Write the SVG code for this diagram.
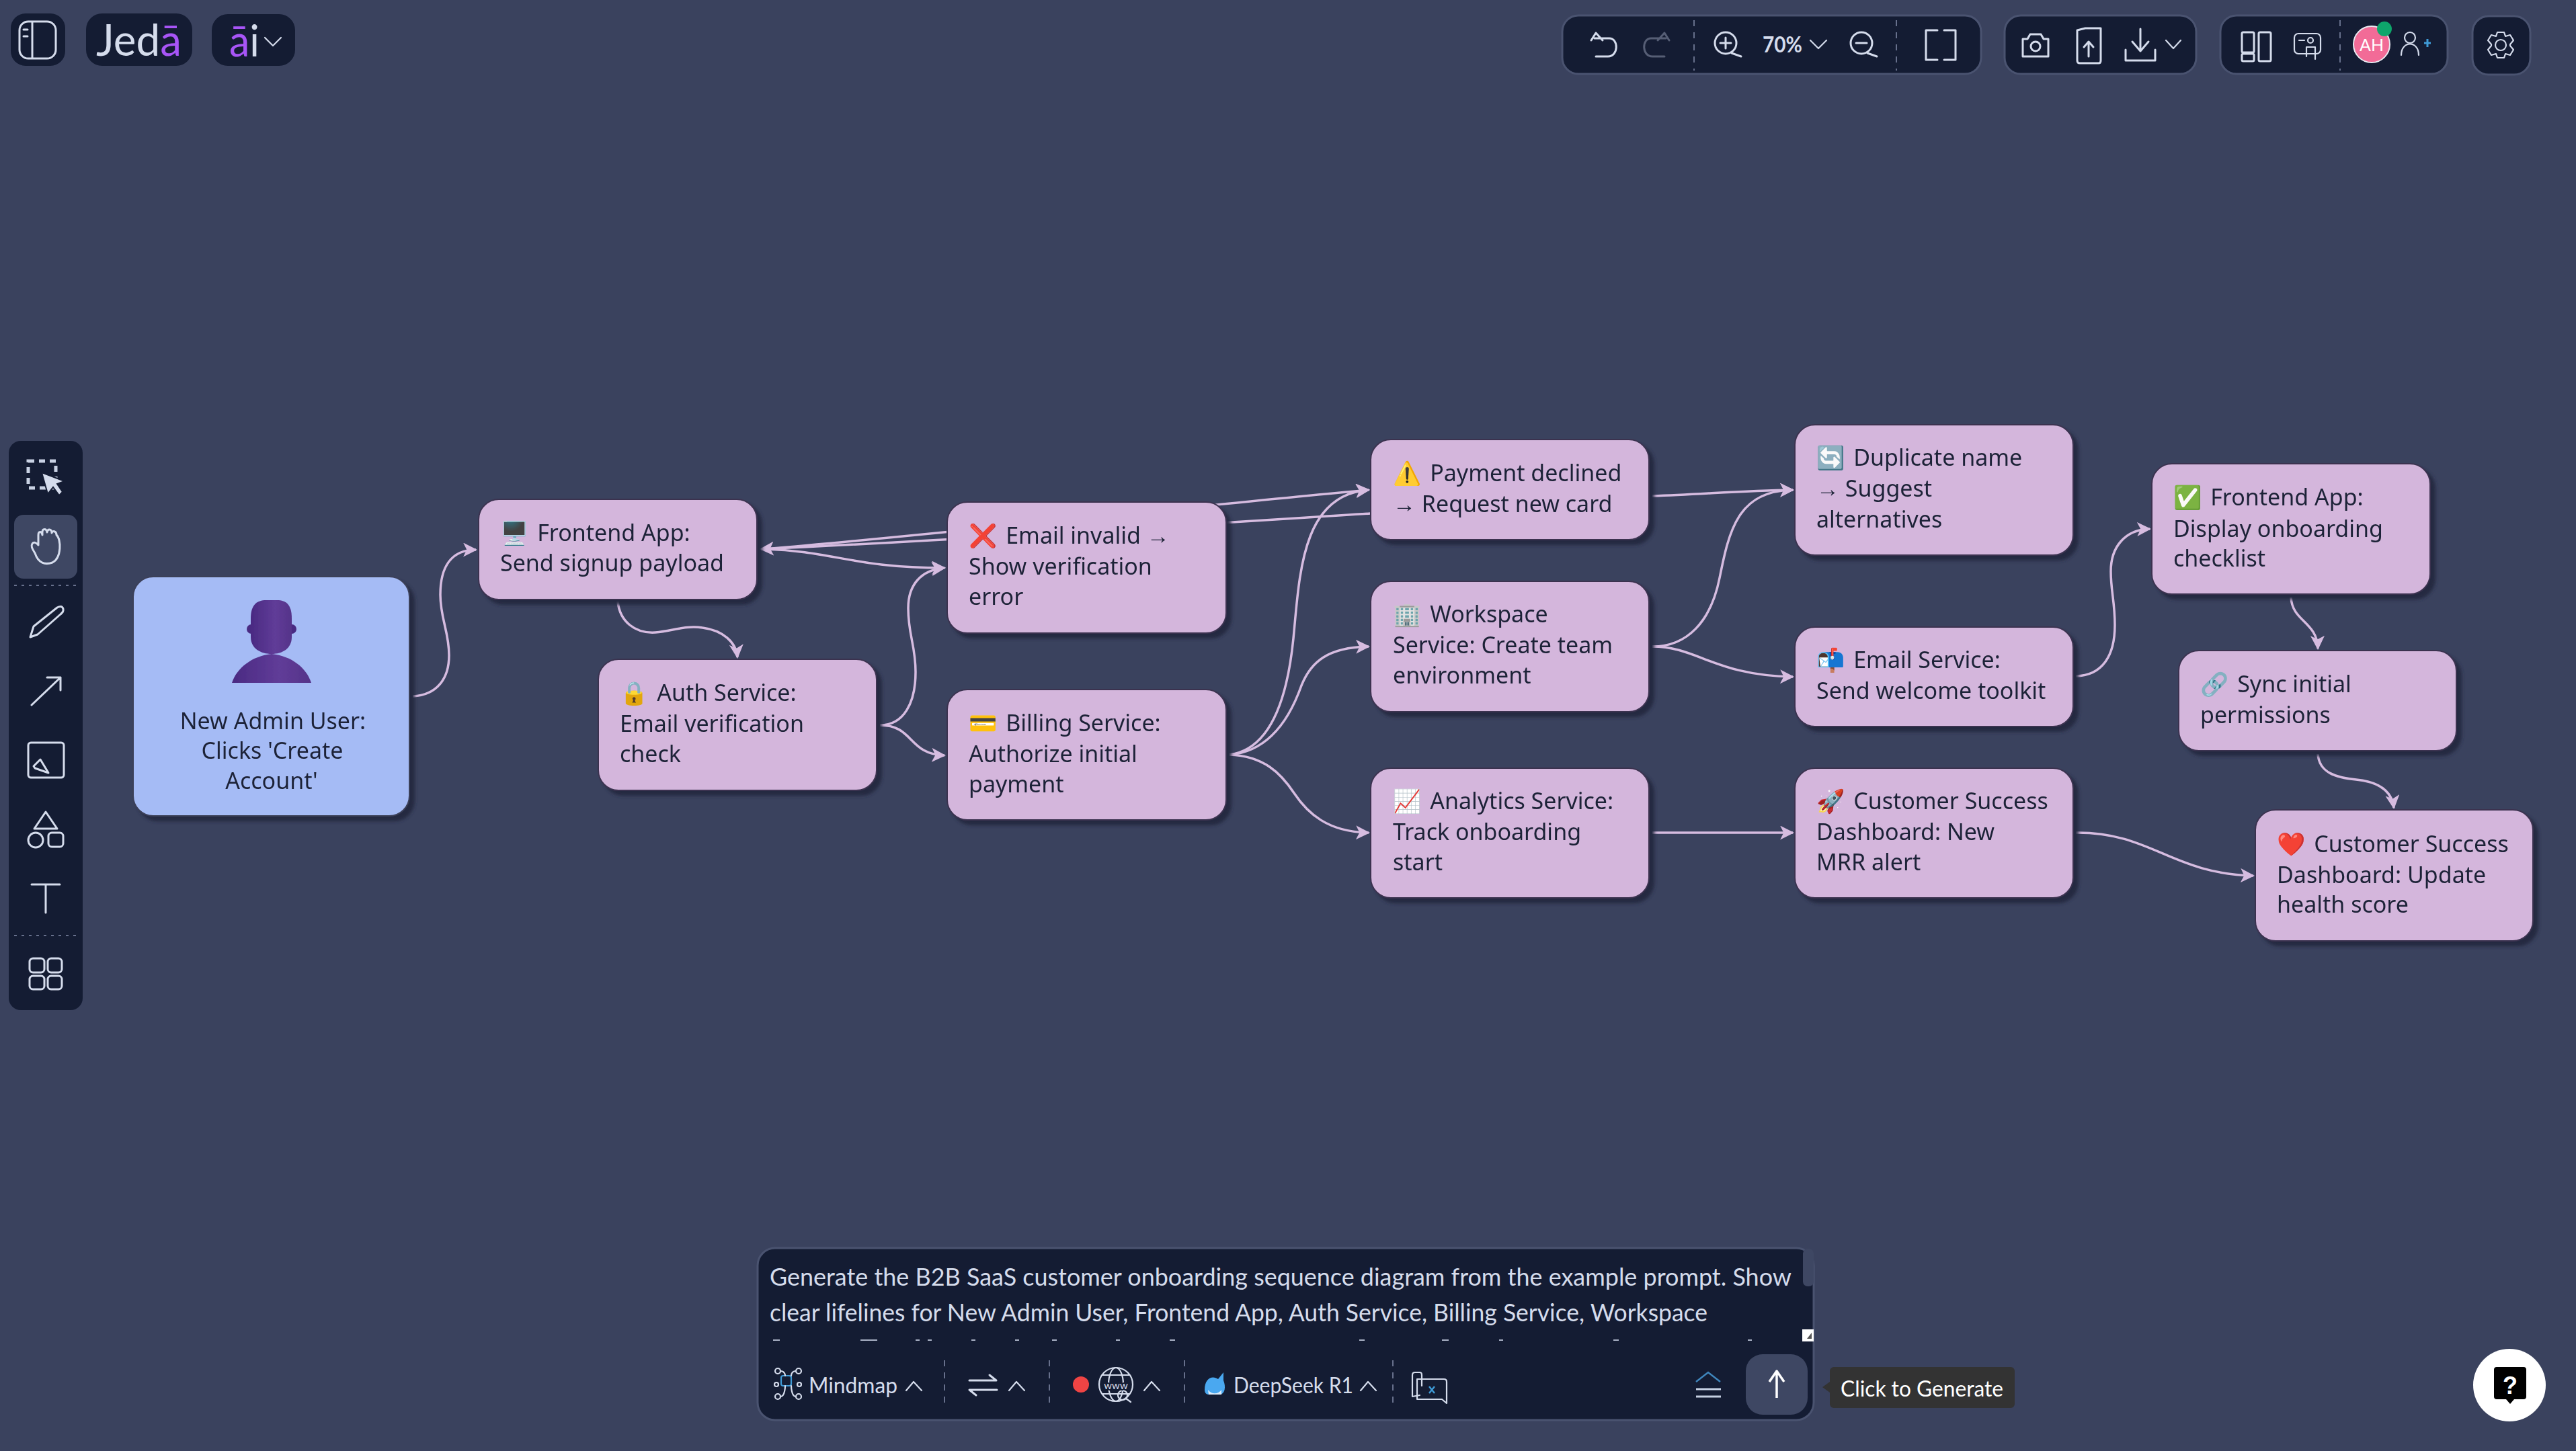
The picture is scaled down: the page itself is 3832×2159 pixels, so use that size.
<svg xmlns="http://www.w3.org/2000/svg" width="3832" height="2159" viewBox="0 0 3832 2159">
<style>
.n{fill:#d4b6dc;stroke:#3b3350;stroke-width:2}
.nt{font-family:"Noto Sans","Open Sans","Noto Color Emoji",sans-serif;font-size:34px;fill:#1f2437}
.c{fill:none;stroke:#d6bce0;stroke-width:3.5}
.ui{fill:#141c33}
.pb{stroke:#4a5370;stroke-width:3}
.i{fill:none;stroke:#d5dcec;stroke-width:3;stroke-linecap:round;stroke-linejoin:round}
.t{stroke-width:2.2}
.d{stroke:#67708c;stroke-width:2;stroke-dasharray:9 9}
.u{font-family:Lato,"Noto Sans",sans-serif;fill:#d5dcec}
</style>
<defs>
<marker id="ah" viewBox="0 0 10 10" refX="9" refY="5" markerWidth="6" markerHeight="6" orient="auto-start-reverse" markerUnits="strokeWidth"><path d="M0 0L10 5L0 10L2.5 5Z" fill="#d6bce0"/></marker>
<filter id="sh" x="-10%" y="-10%" width="125%" height="125%"><feDropShadow dx="7" dy="7" stdDeviation="2.5" flood-color="#232840" flood-opacity=".95"/></filter>
<linearGradient id="pg" x1="0" y1="0" x2="1" y2="0"><stop offset="0" stop-color="#4a2a82"/><stop offset=".6" stop-color="#603c98"/><stop offset="1" stop-color="#553389"/></linearGradient>
</defs>
<rect id="background" width="3832" height="2159" fill="#3a425e"/>

<g id="connectors">
<path class="c" marker-end="url(#ah)" d="M614,1036C650,1034 668,1010 668,975C668,940 655,920 655,885C655,845 670,818 708,818"/>
<path class="c" marker-end="url(#ah)" d="M919,895C922,925 945,943 975,941C1000,939 1020,930 1045,934C1075,938 1095,955 1097,978"/>
<path class="c" marker-end="url(#ah)" d="M1138,817C1240,820 1270,845 1405,845"/>
<path class="c" marker-end="url(#ah)" d="M1138,817C1400,795 1800,750 2036,729"/>
<path class="c" marker-end="url(#ah)" d="M2039,764C1800,779 1400,805 1132,817"/>
<path class="c" marker-end="url(#ah)" d="M1309,1079C1345,1079 1362,1045 1362,1000C1362,960 1351,945 1351,905C1351,870 1370,848 1405,845"/>
<path class="c" marker-end="url(#ah)" d="M1309,1079C1360,1079 1350,1122 1405,1124"/>
<path class="c" marker-end="url(#ah)" d="M1829,1123C1890,1115 1915,1040 1924,950C1933,860 1935,735 2036,729"/>
<path class="c" marker-end="url(#ah)" d="M1829,1123C1890,1118 1920,1065 1936,1020C1950,985 1975,963 2036,962"/>
<path class="c" marker-end="url(#ah)" d="M1829,1123C1880,1125 1905,1150 1925,1180C1945,1210 1975,1238 2036,1239"/>
<path class="c" marker-end="url(#ah)" d="M2458,738C2540,735 2590,730 2667,729"/>
<path class="c" marker-end="url(#ah)" d="M2458,962C2510,962 2545,925 2558,860C2572,790 2585,730 2667,729"/>
<path class="c" marker-end="url(#ah)" d="M2458,962C2525,962 2550,1005 2667,1007"/>
<path class="c" marker-end="url(#ah)" d="M2458,1239L2667,1239"/>
<path class="c" marker-end="url(#ah)" d="M3088,1006C3128,1005 3146,975 3146,930C3146,895 3140,880 3140,850C3140,815 3160,788 3198,787"/>
<path class="c" marker-end="url(#ah)" d="M3408,889C3410,925 3447,925 3448,965"/>
<path class="c" marker-end="url(#ah)" d="M3448,1122C3450,1150 3475,1157 3505,1160C3535,1163 3558,1175 3561,1202"/>
<path class="c" marker-end="url(#ah)" d="M3088,1239C3200,1238 3230,1300 3352,1303"/>
</g>

<g id="node-user" filter="url(#sh)"><rect x="198" y="858" width="411" height="356" rx="30" fill="#a5bbf5" stroke="#3b3f58" stroke-width="2"/>
<path d="M345,1016C352,994 375,976 404,973C434,976 456,994 463,1016Z" fill="url(#pg)"/>
<circle cx="374" cy="936" r="7" fill="#4a2a82"/><circle cx="434" cy="936" r="7" fill="#4a2a82"/>
<path d="M373,920C373,900 382,893 396,893H412C426,893 434,900 434,920V948C434,965 420,973 404,973C388,973 373,965 373,948Z" fill="url(#pg)"/>
<text class="nt" text-anchor="middle" x="406" y="1085">New Admin User:</text><text class="nt" text-anchor="middle" x="405" y="1129">Clicks 'Create</text><text class="nt" text-anchor="middle" x="404" y="1174">Account'</text></g>
<g id="node-frontend" filter="url(#sh)"><rect class="n" x="712" y="743" width="414" height="149" rx="30"/><text class="nt" x="744" y="805">🖥️ <tspan dx="4">Frontend App:</tspan></text><text class="nt" x="744" y="850">Send signup payload</text></g>
<g id="node-auth" filter="url(#sh)"><rect class="n" x="890" y="981" width="414" height="195" rx="30"/><text class="nt" x="922" y="1043">🔒 <tspan dx="4">Auth Service:</tspan></text><text class="nt" x="922" y="1089">Email verification</text><text class="nt" x="922" y="1134">check</text></g>
<g id="node-email-invalid" filter="url(#sh)"><rect class="n" x="1409" y="747" width="415" height="195" rx="30"/><text class="nt" x="1441" y="809">❌ <tspan dx="4">Email invalid →</tspan></text><text class="nt" x="1441" y="855">Show verification</text><text class="nt" x="1441" y="900">error</text></g>
<g id="node-billing" filter="url(#sh)"><rect class="n" x="1409" y="1026" width="415" height="194" rx="30"/><text class="nt" x="1441" y="1088">💳 <tspan dx="4">Billing Service:</tspan></text><text class="nt" x="1441" y="1134">Authorize initial</text><text class="nt" x="1441" y="1179">payment</text></g>
<g id="node-payment" filter="url(#sh)"><rect class="n" x="2039" y="654" width="414" height="149" rx="30"/><text class="nt" x="2072" y="716">⚠️ <tspan dx="4">Payment declined</tspan></text><text class="nt" x="2072" y="762">→ Request new card</text></g>
<g id="node-workspace" filter="url(#sh)"><rect class="n" x="2039" y="865" width="414" height="194" rx="30"/><text class="nt" x="2072" y="926">🏢 <tspan dx="4">Workspace</tspan></text><text class="nt" x="2072" y="972">Service: Create team</text><text class="nt" x="2072" y="1017">environment</text></g>
<g id="node-analytics" filter="url(#sh)"><rect class="n" x="2039" y="1143" width="414" height="193" rx="30"/><text class="nt" x="2072" y="1204">📈 <tspan dx="4">Analytics Service:</tspan></text><text class="nt" x="2072" y="1250">Track onboarding</text><text class="nt" x="2072" y="1295">start</text></g>
<g id="node-duplicate" filter="url(#sh)"><rect class="n" x="2670" y="632" width="414" height="194" rx="30"/><text class="nt" x="2702" y="693">🔄 <tspan dx="4">Duplicate name</tspan></text><text class="nt" x="2702" y="739">→ Suggest</text><text class="nt" x="2702" y="785">alternatives</text></g>
<g id="node-email-service" filter="url(#sh)"><rect class="n" x="2670" y="933" width="414" height="148" rx="30"/><text class="nt" x="2702" y="994">📬 <tspan dx="4">Email Service:</tspan></text><text class="nt" x="2702" y="1040">Send welcome toolkit</text></g>
<g id="node-cs-new" filter="url(#sh)"><rect class="n" x="2670" y="1143" width="414" height="193" rx="30"/><text class="nt" x="2702" y="1204">🚀 <tspan dx="4">Customer Success</tspan></text><text class="nt" x="2702" y="1250">Dashboard: New</text><text class="nt" x="2702" y="1295">MRR alert</text></g>
<g id="node-frontend-checklist" filter="url(#sh)"><rect class="n" x="3201" y="690" width="414" height="194" rx="30"/><text class="nt" x="3233" y="752">✅ <tspan dx="4">Frontend App:</tspan></text><text class="nt" x="3233" y="799">Display onboarding</text><text class="nt" x="3233" y="843">checklist</text></g>
<g id="node-sync" filter="url(#sh)"><rect class="n" x="3241" y="968" width="413" height="149" rx="30"/><text class="nt" x="3273" y="1030">🔗 <tspan dx="4">Sync initial</tspan></text><text class="nt" x="3273" y="1076">permissions</text></g>
<g id="node-cs-health" filter="url(#sh)"><rect class="n" x="3355" y="1205" width="413" height="195" rx="30"/><text class="nt" x="3387" y="1268">❤️ <tspan dx="4">Customer Success</tspan></text><text class="nt" x="3387" y="1314">Dashboard: Update</text><text class="nt" x="3387" y="1358">health score</text></g>

<g id="brand-bar">
<rect class="ui" x="16" y="20" width="81" height="78" rx="22"/>
<rect class="i" x="29" y="32" width="54" height="55" rx="13"/><path class="i" d="M48 33V86M35 44H41M35 54H41"/>
<rect class="ui" x="128" y="20" width="158" height="78" rx="24"/>
<text x="143" y="83" font-family="Lato,sans-serif" font-weight="400" font-size="66" textLength="127" lengthAdjust="spacingAndGlyphs" fill="#d5dcec">Jed<tspan fill="#a855f7">ā</tspan></text>
<rect class="ui" x="315" y="21" width="124" height="77" rx="24"/>
<text x="341" y="84" font-family="Lato,sans-serif" font-weight="400" font-size="66" textLength="45" lengthAdjust="spacingAndGlyphs" fill="#d5dcec"><tspan fill="#a855f7">ā</tspan>i</text>
<path class="i t" d="M394 56L406 68L418 56"/>
</g>

<g id="top-toolbar">
<rect class="ui pb" x="2324" y="23" width="623" height="87" rx="24"/>
<rect class="ui pb" x="2982" y="23" width="285" height="87" rx="24"/>
<rect class="ui pb" x="3303" y="23" width="338" height="87" rx="24"/>
<rect class="ui pb" x="3678" y="24" width="86" height="87" rx="24"/>
<path class="d" d="M2520 30V105M2821 30V105M3481 30V105"/>
<path class="i" d="M2374 49L2367 60M2374 49L2384 60M2372 57H2394C2408 57 2408 84 2392 84H2374"/>
<path class="i" style="stroke:#565e75" d="M2476 49L2483 60M2476 49L2466 60M2478 57H2456C2442 57 2442 84 2458 84H2476"/>
<circle class="i" cx="2567" cy="64" r="16"/><path class="i" d="M2567 56V72M2559 64H2575M2576 79L2590 84"/>
<text class="u" x="2622" y="78" font-size="32" font-weight="700" textLength="59" lengthAdjust="spacingAndGlyphs">70%</text>
<path class="i t" d="M2693 60L2705 72L2717 60"/>
<circle class="i" cx="2769" cy="64" r="16"/><path class="i" d="M2761 64H2777M2778 79L2792 84"/>
<path class="i" d="M2882 45H2865V89H2882M2892 45H2909V89H2892"/>
<path class="i" d="M3009 58H3016L3020 51H3036L3040 58H3047V84H3009Z"/><circle class="i" cx="3028" cy="69" r="7"/>
<path class="i" d="M3090 45V90Q3090 94 3094 94H3122Q3125 94 3125 90V42H3102ZM3107 84V64M3100 70L3107 62L3114 70"/>
<path class="i" d="M3184 43V76M3172 62L3184 76L3196 62M3162 74V90H3206V74"/>
<path class="i t" d="M3222 60L3233 72L3244 60"/>
<rect class="i" x="3335" y="48" width="18" height="30" rx="2"/><rect class="i" x="3335" y="80" width="18" height="11" rx="2"/><rect class="i" x="3360" y="48" width="18" height="43" rx="2"/>
<rect class="i t" x="3413" y="50" width="39" height="30" rx="6"/><circle class="i t" cx="3437" cy="60" r="4"/><path class="i t" d="M3431 84V70H3444V88M3420 60H3428"/>
<circle cx="3528" cy="66" r="27" fill="#f26b97" stroke="#e8e8f0" stroke-width="2"/>
<text x="3528" y="76" text-anchor="middle" font-family="Lato,sans-serif" font-size="25" fill="#fff">AH</text>
<circle cx="3547" cy="43" r="11" fill="#0ea66b"/>
<circle class="i t" cx="3585" cy="56" r="8"/><path class="i t" d="M3572 82C3572 60 3598 60 3598 82"/>
<path d="M3606 64H3616M3611 58V70" stroke="#3f9ad6" stroke-width="3" fill="none"/>
<circle class="i t" cx="3720" cy="67" r="8"/><path class="i t" d="M3715 48H3725L3727 54L3734 52L3739 60L3734 66V68L3739 74L3734 82L3727 80L3725 86H3715L3713 80L3706 82L3701 74L3706 68V66L3701 60L3706 52L3713 54Z"/>
</g>

<g id="left-toolbar">
<rect class="ui" x="13" y="656" width="110" height="847" rx="18"/>
<rect x="21" y="766" width="94" height="95" rx="14" fill="#3e4763"/>
<path d="M21 871H115M21 1392H115" stroke="#67708c" stroke-width="2" stroke-dasharray="4 7"/>
<rect x="42" y="686" width="41" height="40" fill="none" stroke="#c9d2e4" stroke-width="5" stroke-dasharray="9 7"/>
<path d="M62 703L96 716L85 720L93 732L88 737L79 725L71 735Z" fill="#d5dcec" stroke="#141c33" stroke-width="2"/>
<path class="i" d="M52 823C47 815 46 812 48 809C50 806 54 807 57 811V796C57 790 62 790 63 796V792C63 786 69 786 70 792C71 786 77 787 77 793C78 789 84 790 84 796C91 802 92 830 78 837C67 841 57 838 52 823Z"/>
<path class="i" d="M45 948L50 932L85 904Q92 900 94 906Q95 910 90 914L56 944Z"/>
<path class="i" d="M47 1049L90 1008M70 1008H90V1027"/>
<rect class="i" x="42" y="1105" width="53" height="52" rx="4"/><path class="i" d="M50 1140L60 1130L72 1150L52 1143Z"/>
<path class="i" d="M68 1208L85 1233H51Z"/><circle class="i" cx="53" cy="1250" r="11"/><rect class="i" x="72" y="1239" width="22" height="21" rx="5"/>
<path class="i" d="M47 1316H89M68 1316V1358"/>
<rect class="i" x="44" y="1426" width="22" height="21" rx="5"/><rect class="i" x="71" y="1426" width="21" height="21" rx="5"/><rect class="i" x="44" y="1452" width="22" height="20" rx="5"/><rect class="i" x="71" y="1452" width="21" height="20" rx="5"/>
</g>

<g id="prompt-panel">
<rect class="ui" x="1127" y="1857" width="1571" height="256" rx="26" stroke="#4a5370" stroke-width="3"/>
<rect x="2682" y="1858" width="16" height="56" rx="7" fill="#3e4763"/>
<rect x="2681" y="1978" width="17" height="18" fill="#fff"/><path d="M2688 1992L2695 1983V1992Z" fill="#555"/>
<text class="u" x="1145" y="1913" font-size="36" textLength="1520" lengthAdjust="spacingAndGlyphs">Generate the B2B SaaS customer onboarding sequence diagram from the example prompt. Show</text>
<text class="u" x="1145" y="1966" font-size="36" textLength="1395" lengthAdjust="spacingAndGlyphs">clear lifelines for New Admin User, Frontend App, Auth Service, Billing Service, Workspace</text>
<path d="M1150 1994H1160M1280 1994H1305M1362 1994H1368M1380 1994H1386M1445 1994H1451M1510 1994H1516M1565 1994H1572M1660 1994H1666M1740 1994H1748M2022 1994H2030M2145 1994H2155M2230 1994H2236M2400 1994H2408M2600 1994H2606" stroke="#aab2c6" stroke-width="2"/>
<path class="d" d="M1405 2024V2096M1561 2024V2096M1762 2024V2096M2072 2024V2096"/>
<g class="i t"><rect x="1162" y="2047" width="15" height="15" rx="3" style="stroke:#3f9ad6"/><circle cx="1157" cy="2040" r="4"/><circle cx="1188" cy="2040" r="4"/><circle cx="1155" cy="2060" r="3"/><circle cx="1189" cy="2060" r="3"/><circle cx="1157" cy="2078" r="4"/><circle cx="1188" cy="2078" r="4"/><path d="M1161 2040C1168 2040 1168 2047 1168 2047M1184 2040C1177 2040 1177 2047 1177 2047M1161 2078C1168 2078 1168 2062 1168 2062M1184 2078C1177 2078 1177 2062 1177 2062"/></g>
<text class="u" x="1203" y="2073" font-size="33" textLength="132" lengthAdjust="spacingAndGlyphs">Mindmap</text>
<path class="i t" d="M1348 2069L1359 2056L1371 2069M1501 2069L1512 2056L1524 2069M1702 2069L1713 2056L1725 2069M2024 2069L2035 2056L2047 2069"/>
<path class="i" d="M1442 2054H1482L1472 2046M1483 2068H1442L1452 2076"/>
<circle cx="1608" cy="2060" r="12" fill="#ef4444"/>
<g class="i t"><circle cx="1660" cy="2060" r="25"/><ellipse cx="1660" cy="2060" rx="11" ry="25"/><path d="M1640 2046H1680M1640 2074H1680"/><circle cx="1670" cy="2076" r="7"/><path d="M1675 2081L1682 2086"/></g>
<text x="1660" y="2067" text-anchor="middle" font-family="Lato,sans-serif" font-size="15" fill="#d5dcec" stroke="#141c33" stroke-width="4" paint-order="stroke">www</text>
<path d="M1792 2068C1792 2050 1804 2046 1812 2052L1820 2042V2054C1824 2064 1822 2074 1815 2075H1798C1794 2075 1792 2072 1792 2068Z" fill="#4aa8f0"/><path d="M1797 2068C1802 2075 1812 2075 1817 2068V2075H1798Z" fill="#dcebfa"/>
<text class="u" x="1835" y="2073" font-size="33" textLength="178" lengthAdjust="spacingAndGlyphs">DeepSeek R1</text>
<path class="i t" d="M2115 2062V2046Q2115 2042 2112 2042H2105Q2101 2042 2101 2046V2078L2112 2076"/>
<path class="i t" d="M2108 2052H2148Q2152 2052 2152 2056V2088L2145 2082H2108Z"/>
<path d="M2126 2063L2134 2073M2134 2063L2126 2073" stroke="#3f9ad6" stroke-width="2.5"/>
<path d="M2523 2056L2541 2042L2559 2056" fill="none" stroke="#3f86bd" stroke-width="2.5"/>
<path d="M2523 2067H2560M2523 2078H2560" stroke="#c5cfe2" stroke-width="3"/>
<rect x="2597" y="2015" width="92" height="90" rx="25" fill="#3e4763"/>
<path d="M2643 2080V2041M2632 2056L2643 2040L2654 2056" fill="none" stroke="#fff" stroke-width="3.5" stroke-linejoin="round"/>
</g>

<g id="tooltip">
<path d="M2722 2056L2711 2064L2722 2072Z" fill="#333"/>
<rect x="2722" y="2034" width="275" height="61" rx="6" fill="#333"/>
<text x="2738" y="2078" font-family="Lato,sans-serif" font-size="32" fill="#fff" textLength="242" lengthAdjust="spacingAndGlyphs">Click to Generate</text>
</g>

<g id="help-button">
<circle cx="3733" cy="2061" r="54" fill="#fff"/>
<path d="M3714 2034H3754Q3758 2034 3758 2038V2078Q3758 2082 3754 2082H3740L3734 2089L3728 2082H3714Q3710 2082 3710 2078V2038Q3710 2034 3714 2034Z" fill="#000"/>
<text x="3734" y="2074" text-anchor="middle" font-family="Liberation Sans,sans-serif" font-weight="700" font-size="36" fill="#fff">?</text>
</g>
</svg>
